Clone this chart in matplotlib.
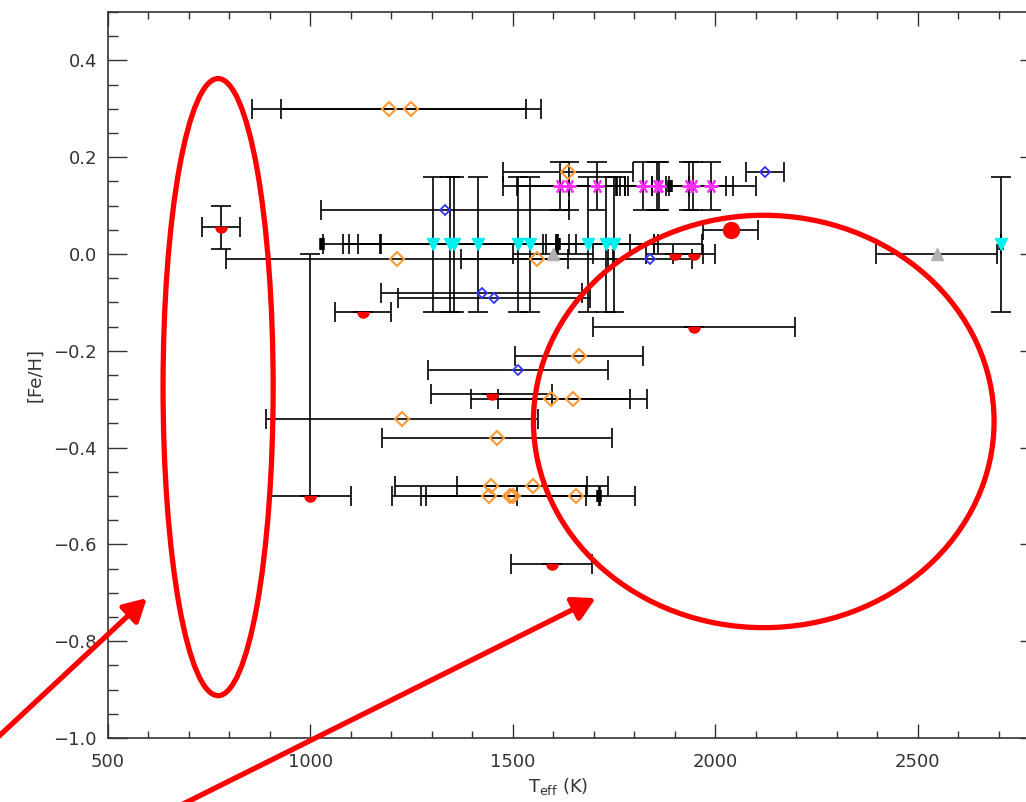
import numpy as np
import matplotlib
matplotlib.use("Agg")
import matplotlib.pyplot as plt
from matplotlib.patches import Ellipse, FancyArrowPatch
from matplotlib.ticker import MultipleLocator, FuncFormatter

# --- data: Teff (K), Teff error, [Fe/H], [Fe/H] error ---
orange_teff = [1194, 1248, 1636, 1214, 1559, 1663, 1594, 1648, 1226, 1460,
               1446, 1549, 1441, 1493, 1500, 1656]
orange_terr = [338, 321, 160, 422, 188, 158, 196, 184, 336, 284,
               238, 186, 240, 220, 215, 146]
orange_feh = [0.30, 0.30, 0.17, -0.01, -0.01, -0.21, -0.30, -0.30, -0.34, -0.38,
              -0.48, -0.48, -0.50, -0.50, -0.50, -0.50]

blue_teff = [1332, 2122, 1838, 1423, 1453, 1512]
blue_terr = [306, 47, 104, 249, 237, 222]
blue_feh = [0.09, 0.17, -0.01, -0.08, -0.09, -0.24]

red_teff = [779, 1130, 1900, 1947, 1947, 1448, 1000, 1596]
red_terr = [47, 69, 70, 52, 250, 149, 101, 100]
red_feh = [0.055, -0.12, 0.0, 0.0, -0.15, -0.29, -0.50, -0.64]
red_feh_lo = [0.045, 0, 0, 0, 0, 0, 0, 0]
red_feh_hi = [0.045, 0, 0, 0, 0, 0, 0.50, 0]

big_teff = [2038]
big_terr = [67]
big_feh = [0.05]

cyan_teff = [1302, 1344, 1354, 1414, 1512, 1542, 1685, 1730, 1749, 2705]
cyan_terr = [272, 264, 258, 243, 338, 425, 104, 120, 109, 0]
cyan_feh = [0.02] * 10
cyan_feherr = [0.14] * 10

mag_teff = [1616, 1638, 1707, 1821, 1856, 1860, 1935, 1944, 1989]
mag_terr = [140, 128, 69, 64, 80, 76, 91, 99, 111]
mag_feh = [0.14] * 9
mag_feherr = [0.05] * 9

gray_teff = [1599, 2547]
gray_terr = [99, 149]
gray_feh = [0.0, 0.0]

black_teff = [1028, 1611, 1888, 1712, 2705]
black_feh = [0.02, 0.02, 0.14, -0.50, 0.02]

xticks = [500, 1000, 1500, 2000, 2500]
yticks = [-1.0, -0.8, -0.6, -0.4, -0.2, 0.0, 0.2, 0.4]

# highlighted regions (centre Teff, centre [Fe/H], width, height)
regions = [(772, -0.275, 272, 1.275), (2120, -0.346, 1138, 0.852)]
# arrows: (tail Teff, tail [Fe/H]) -> (tip Teff, tip [Fe/H])
arrows = [((159, -1.052), (596, -0.711)), ((653, -1.15), (1705, -0.711))]

plt.rcParams['font.family'] = ['DejaVu Sans']

fig = plt.figure(figsize=(10.26, 8.02), dpi=100)
ax = fig.add_axes([108 / 1026, 64 / 802, 931 / 1026, 726 / 802])

eb = dict(fmt='none', ecolor='black', elinewidth=1.2, capsize=7, capthick=1.2, zorder=2)

ax.errorbar(orange_teff, orange_feh, xerr=orange_terr, **eb)
ax.errorbar(blue_teff, blue_feh, xerr=blue_terr, **eb)
ax.errorbar(red_teff, red_feh, xerr=red_terr, yerr=[red_feh_lo, red_feh_hi], **eb)
ax.errorbar(big_teff, big_feh, xerr=big_terr, **eb)
ax.errorbar(cyan_teff, cyan_feh, xerr=cyan_terr, yerr=cyan_feherr, **eb)
ax.errorbar(mag_teff, mag_feh, xerr=mag_terr, yerr=mag_feherr, **eb)
ax.errorbar(gray_teff, gray_feh, xerr=gray_terr, **eb)

# half-disc marker for the small red points
th = np.linspace(np.pi, 2 * np.pi, 25)
half_disc = list(zip(np.cos(th), np.sin(th))) + [(-1, 0)]

ax.plot(black_teff, black_feh, ls='none', marker='|', ms=9, mew=4, color='black', zorder=3)
ax.plot(orange_teff, orange_feh, ls='none', marker='D', ms=7.5, mfc='none',
        mec='#ff9933', mew=1.5, zorder=4)
ax.plot(blue_teff, blue_feh, ls='none', marker='D', ms=5, mfc='none',
        mec='#3333ff', mew=1.3, zorder=4)
ax.plot(red_teff, red_feh, ls='none', marker=half_disc, ms=8, color='red', zorder=4)
ax.plot(big_teff, big_feh, ls='none', marker='o', ms=11.5, color='red', zorder=4)
ax.plot(cyan_teff, cyan_feh, ls='none', marker='v', ms=8.5, color='#00f0f0', zorder=4)
ax.plot(mag_teff, mag_feh, ls='none', marker=(6, 2, 90), ms=10, mew=1.5,
        color='#ff33ff', zorder=4)
ax.plot(gray_teff, gray_feh, ls='none', marker='^', ms=8, color='#b0b0b0', zorder=4)

ax.set_xlim(500, 2800)
ax.set_ylim(-1.0, 0.5)
ax.set_xticks(xticks)
ax.set_yticks(yticks)
ax.xaxis.set_minor_locator(MultipleLocator(100))
ax.yaxis.set_minor_locator(MultipleLocator(0.05))
ax.yaxis.set_major_formatter(FuncFormatter(
    lambda v, pos: ('%.1f' % abs(v)) if abs(v) < 1e-9 else ('%.1f' % v).replace('-', '\u2212')))

ax.tick_params(which='both', direction='in', top=True, right=True,
               color='#333333', width=1.0, labelcolor='#333333', labelsize=13)
ax.tick_params(axis='x', which='major', length=10, pad=11)
ax.tick_params(axis='x', which='minor', length=5)
ax.tick_params(axis='y', which='major', length=13.5, pad=8)
ax.tick_params(axis='y', which='minor', length=7)
for s in ax.spines.values():
    s.set_color('#333333')
    s.set_linewidth(1.2)

ax.set_ylabel('[Fe/H]', fontsize=13, color='#333333')
ax.yaxis.set_label_coords(-0.068, 0.5)
ax.set_xlabel(r'T$_{\rm eff}$ (K)', fontsize=13, color='#333333')
ax.xaxis.set_label_coords(0.483, -0.052)

for cx, cy, w, h in regions:
    ax.add_patch(Ellipse((cx, cy), w, h, fill=False, ec='red', lw=3.8,
                         clip_on=False, zorder=6))
for tail, tip in arrows:
    ax.add_patch(FancyArrowPatch(tail, tip, arrowstyle='-|>,head_length=0.9,head_width=0.5',
                                 mutation_scale=15, color='red', lw=3.8,
                                 clip_on=False, zorder=6, shrinkA=0, shrinkB=0))

plt.savefig('out.png', dpi=100)
plt.close()
